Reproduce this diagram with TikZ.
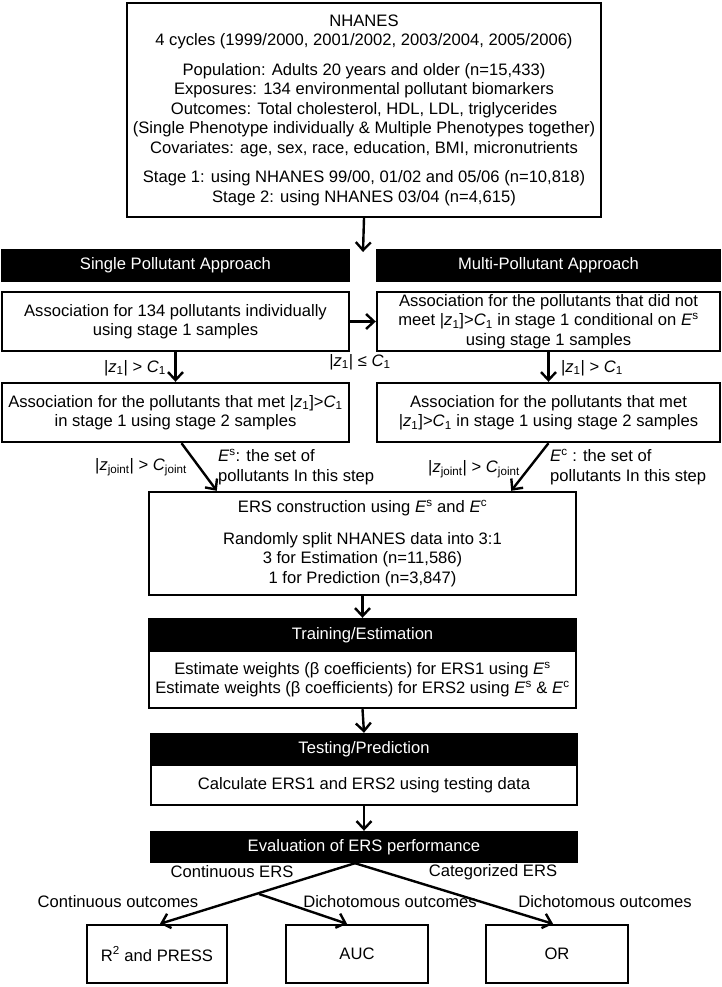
\documentclass[tikz,border=0pt]{standalone}
\usepackage{fontspec}
\setmainfont{Liberation Sans}
\usetikzlibrary{arrows.meta}
\newcommand*{\zOne}{|\textit{z}\textsubscript{1}|}
\newcommand*{\cOne}{\textit{C}\textsubscript{1}}
\newcommand*{\zMet}{|\textit{z}\textsubscript{1}]>\textit{C}\textsubscript{1}}
\newcommand*{\zJoint}{|\textit{z}\textsubscript{joint}|}
\newcommand*{\cJoint}{\textit{C}\textsubscript{joint}}
\newcommand*{\eS}{\textit{E}\textsuperscript{s}}
\newcommand*{\eC}{\textit{E}\textsuperscript{c}}
\tikzset{
  every node/.style={font=\fontsize{16.6}{19.5}\selectfont},
  box/.style={draw, line width=2.4pt, align=center, inner sep=0pt},
  bar/.style={box, fill=black, text=white},
  lbl/.style={inner sep=0pt, align=center},
  arr/.style={-{Straight Barb[length=8pt,width=15pt]}, line width=2.4pt},
}

\begin{document}
\begin{tikzpicture}[x=1pt, y=-1pt]
        \useasboundingbox (0,0) rectangle (722,987);
        \node [box, minimum width=474pt, minimum height=214pt] (topBox) at (364,110) {NHANES\\4 cycles (1999/2000, 2001/2002, 2003/2004, 2005/2006)\\[10pt]Population: Adults 20 years and older (n=15,433)\\Exposures: 134 environmental pollutant biomarkers\\Outcomes: Total cholesterol, HDL, LDL, triglycerides\\(Single Phenotype individually \& Multiple Phenotypes together)\\Covariates: age, sex, race, education, BMI, micronutrients\\[10pt]Stage 1: using NHANES 99/00, 01/02 and 05/06 (n=10,818)\\Stage 2: using NHANES 03/04 (n=4,615)};
        \node [bar, minimum width=347pt, minimum height=31pt] (singleBar) at (175.5,265.5) {Single Pollutant Approach};
        \node [bar, minimum width=343pt, minimum height=31pt] (multiBar) at (548.5,265.5) {Multi-Pollutant Approach};
        \node [box, minimum width=347pt, minimum height=59pt] (singleA) at (175.5,321.5) {Association for 134 pollutants individually\\using stage 1 samples};
        \node [box, minimum width=343pt, minimum height=59pt] (multiA) at (548.5,321.5) {Association for the pollutants that did not\\meet \zMet{} in stage 1 conditional on \eS\\using stage 1 samples};
        \node [box, minimum width=347pt, minimum height=59pt] (singleB) at (175.5,412.5) {Association for the pollutants that met \zMet\\in stage 1 using stage 2 samples};
        \node [box, minimum width=343pt, minimum height=59pt] (multiB) at (548.5,412.5) {Association for the pollutants that met\\\zMet{} in stage 1 using stage 2 samples};
        \node [box, minimum width=427pt, minimum height=103pt] (ersBox) at (362.5,543.5) {ERS construction using \eS{} and \eC\\[12pt]Randomly split NHANES data into 3:1\\3 for Estimation (n=11,586)\\1 for Prediction (n=3,847)};
        \node [bar, minimum width=427pt, minimum height=32pt] (trainBar) at (362.5,635) {Training/Estimation};
        \node [box, minimum width=427pt, minimum height=57pt] (trainBox) at (362.5,679.5) {Estimate weights (β coefficients) for ERS1 using \eS\\Estimate weights (β coefficients) for ERS2 using \eS{} \& \eC};
        \node [bar, minimum width=426pt, minimum height=31pt] (testBar) at (364,749.5) {Testing/Prediction};
        \node [box, minimum width=426pt, minimum height=40pt] (testBox) at (364,785) {Calculate ERS1 and ERS2 using testing data};
        \node [bar, minimum width=426pt, minimum height=30pt] (evalBar) at (364,847) {Evaluation of ERS performance};
        \node [box, minimum width=140pt, minimum height=58pt] (rBox) at (157,954) {R\textsuperscript{2} and PRESS};
        \node [box, minimum width=142pt, minimum height=58pt] (aucBox) at (357,954) {AUC};
        \node [box, minimum width=142pt, minimum height=58pt] (orBox) at (557,954) {OR};

        \coordinate (splitTip) at (363,252);
        \draw [arr] (topBox.south) -- (splitTip);
        \draw [arr] (singleA.east) -- (multiA.west);
        \draw [arr] (singleA.south) -- (singleB.north);
        \draw [arr] (multiA.south) -- (multiB.north);
        \draw [arr] ([xshift=6pt]singleB.south) -- ([xshift=69pt]ersBox.north west);
        \draw [arr] (multiB.south) -- ([xshift=-66pt]ersBox.north east);
        \draw [arr] (ersBox.south) -- (trainBar.north);
        \draw [arr] (trainBox.south) -- (testBar.north);
        \draw [arr] (testBox.south) -- (evalBar.north);
        \coordinate (evalFoot) at ([xshift=-9pt]evalBar.south);
        \coordinate (forkPt) at (259,894);
        \draw [arr] (evalFoot) -- ([xshift=3pt]rBox.north);
        \draw [arr] (forkPt) -- ([xshift=-10pt]aucBox.north);
        \draw [arr] (evalFoot) -- ([xshift=-4pt]orBox.north);

        \node [lbl] (zLeft) at (135,368) {\zOne{} > \cOne};
        \node [lbl] (zRight) at (592,368) {\zOne{} > \cOne};
        \node [lbl] (zLow) at (360,362) {\zOne{} ≤ \cOne};
        \node [lbl] (jointLeft) at (141,467) {\zJoint{} > \cJoint};
        \node [lbl] (jointRight) at (474,469) {\zJoint{} > \cJoint};
        \node [lbl, anchor=west, align=left] (setS) at (218,467) {\eS: the set of\\pollutants In this step};
        \node [lbl, anchor=west, align=left] (setC) at (550,467) {\eC{} : the set of\\pollutants In this step};
        \node [lbl] (contErs) at (232,872) {Continuous ERS};
        \node [lbl] (catErs) at (493,872) {Categorized ERS};
        \node [lbl] (contOut) at (118,902) {Continuous outcomes};
        \node [lbl] (dichOut) at (390,902) {Dichotomous outcomes};
        \node [lbl] (dichOutB) at (605,902) {Dichotomous outcomes};
\end{tikzpicture}
\end{document}
